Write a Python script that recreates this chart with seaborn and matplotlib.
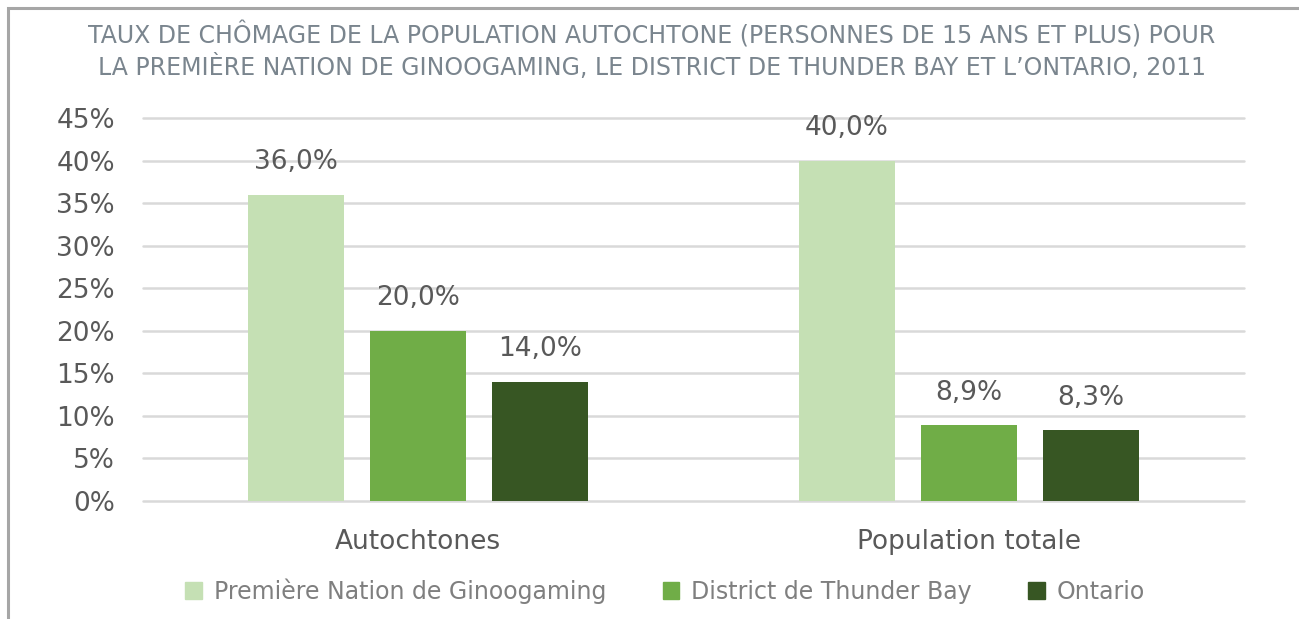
import pandas as pd
import matplotlib.pyplot as plt
import seaborn as sns
from matplotlib.patches import Rectangle

groups = ["Autochtones", "Population totale"]
series = ["Première Nation de Ginoogaming", "District de Thunder Bay", "Ontario"]
ginoogaming = [36.0, 40.0]
thunder_bay = [20.0, 8.9]
ontario = [14.0, 8.3]
colors = ["#C5E0B4", "#70AD47", "#375623"]
title = ("TAUX DE CHÔMAGE DE LA POPULATION AUTOCHTONE (PERSONNES DE 15 ANS ET PLUS) POUR\n"
         "LA PREMIÈRE NATION DE GINOOGAMING, LE DISTRICT DE THUNDER BAY ET L’ONTARIO, 2011")

rows = []
for name, vals in zip(series, [ginoogaming, thunder_bay, ontario]):
    for g, v in zip(groups, vals):
        rows.append({"groupe": g, "serie": name, "taux": v})
df = pd.DataFrame(rows)

sns.set_theme(style="white")
plt.rcParams['font.family'] = ['DejaVu Sans']

fig = plt.figure(figsize=(12.99, 6.19), dpi=100)
ax = fig.add_axes([0.110, 0.1906, 0.8477, 0.6188])
sns.barplot(data=df, x="groupe", y="taux", hue="serie", palette=colors,
            width=0.665, gap=0.213, ax=ax, saturation=1, linewidth=0)

ax.set_ylim(0, 45)
ax.set_xlim(-0.5, 1.5)
ax.set_yticks(range(0, 50, 5))
ax.set_yticklabels([f"{t}%" for t in range(0, 50, 5)])
ax.yaxis.grid(True, color="#D9D9D9", linewidth=1.8)
for gl in ax.get_ygridlines():
    gl.set_clip_on(False)
ax.set_axisbelow(True)
sns.despine(ax=ax, left=True, bottom=True)
ax.tick_params(axis="y", length=0, pad=20, labelsize=19, labelcolor="#595959")
ax.tick_params(axis="x", length=0, pad=20, labelsize=19, labelcolor="#595959")
ax.set_xlabel("")
ax.set_ylabel("")

for cont in ax.containers:
    labels = [f"{b.get_height():.1f}%".replace(".", ",") for b in cont]
    ax.bar_label(cont, labels=labels, padding=14, fontsize=19, color="#595959")

ax.legend_.remove()
handles = [Rectangle((0, 0), 1, 1, color=c) for c in colors]
fig.legend(handles, series, loc="center", bbox_to_anchor=(0.512, 0.045), ncol=3,
           frameon=False, fontsize=17, labelcolor="#7F7F7F", handlelength=0.7,
           handleheight=0.7, columnspacing=2.4, handletextpad=0.5)

fig.text(0.502, 0.918, title, ha="center", va="center", fontsize=17,
         color="#7A858E", linespacing=1.25)

fig.patches.append(Rectangle((8 / 1299, -0.1), 1.2, 1 - 8 / 619 + 0.1, transform=fig.transFigure,
                             fill=False, edgecolor="#A6A6A6", linewidth=2.2))

fig.savefig("out.png", dpi=100)
